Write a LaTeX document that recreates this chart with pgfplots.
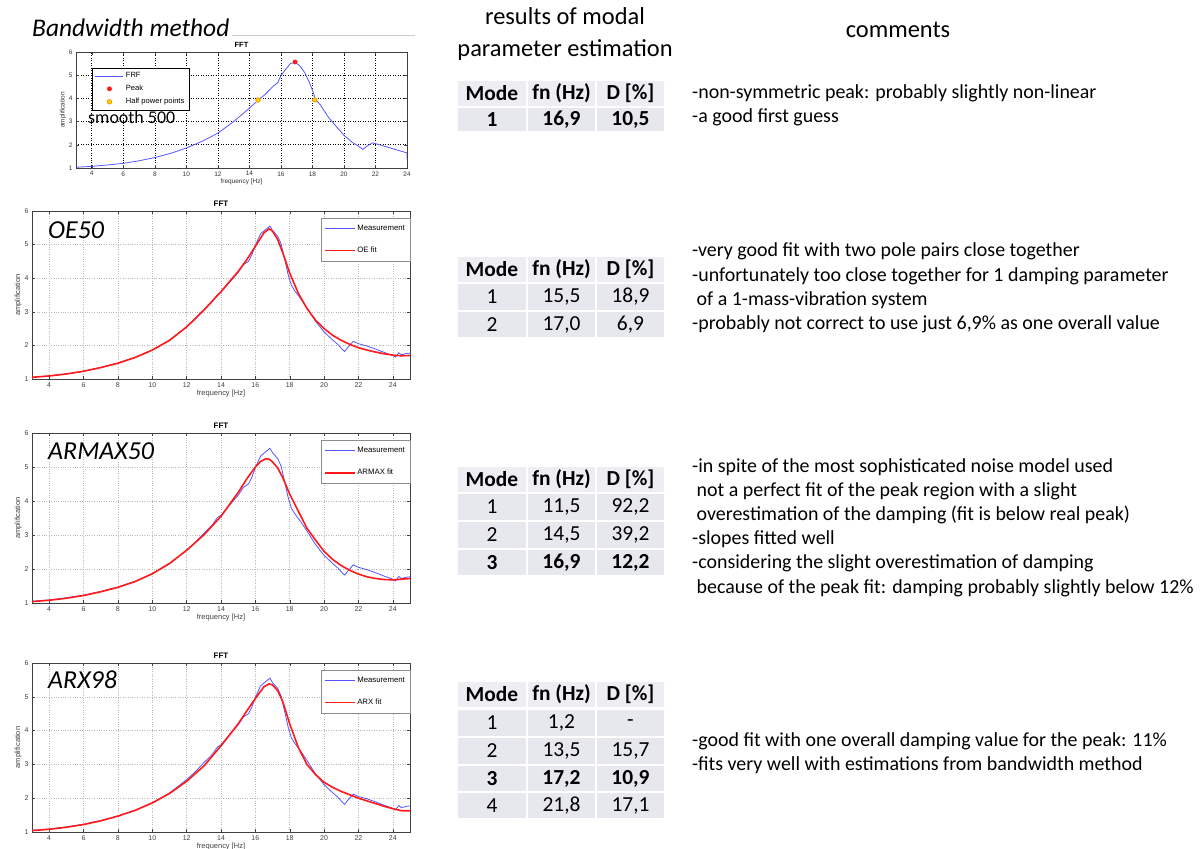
\documentclass[border=0pt]{standalone}
\usepackage{fontspec}
\setmainfont{Carlito}
\newfontfamily\hv{Liberation Sans}
\usepackage{pgfplots}
\usepackage{pgfplotstable}
\pgfplotsset{compat=1.18}

\definecolor{mblue}{RGB}{85,85,255}
\definecolor{mred}{RGB}{255,25,25}
\definecolor{hpfill}{RGB}{255,225,0}
\definecolor{hpedge}{RGB}{255,140,0}
\definecolor{cellh}{RGB}{238,238,242}
\definecolor{cellr}{RGB}{231,231,238}

% smoothed FRF (bandwidth method)
\pgfplotstableread{
x y
3 1.03
4 1.07
5 1.13
6 1.20
7 1.31
8 1.45
9 1.63
10 1.86
11 2.15
12 2.50
13 3.00
14 3.58
14.6 3.95
15 4.17
15.5 4.52
15.8 4.68
16.0 4.98
16.3 5.25
16.6 5.50
16.9 5.56
17.2 5.40
17.5 5.12
17.8 4.70
18.0 4.35
18.2 3.95
18.5 3.72
19 3.20
19.5 2.80
20 2.41
20.5 2.12
21 1.90
21.2 1.80
21.5 1.96
21.8 2.08
22 2.05
22.5 1.95
23 1.85
23.5 1.75
24 1.65
24 1.40
}\frf

\pgfplotstableread{
x y
3 1.05
4 1.09
5 1.15
6 1.23
7 1.34
8 1.47
9 1.64
10 1.86
11 2.15
12 2.55
12.5 2.78
13 3.05
13.5 3.30
13.8 3.52
14 3.58
14.5 3.88
15 4.17
15.3 4.40
15.6 4.50
15.8 4.70
16.0 4.98
16.3 5.32
16.6 5.45
16.85 5.55
17.0 5.42
17.3 5.25
17.5 5.02
17.7 4.58
17.9 4.12
18.1 3.78
18.3 3.62
18.6 3.42
19.0 3.12
19.5 2.72
20.0 2.40
20.5 2.16
20.8 2.03
21.1 1.86
21.2 1.82
21.4 1.95
21.7 2.12
22.0 2.05
22.5 1.98
23.0 1.89
23.5 1.79
24.0 1.70
24.15 1.65
24.35 1.78
24.5 1.72
24.8 1.76
25.0 1.77
}\meas

\pgfplotstableread{
x y
3 1.05
4 1.09
5 1.15
6 1.23
7 1.34
8 1.47
9 1.64
10 1.86
11 2.15
12 2.55
13 3.05
14 3.60
15 4.20
15.5 4.55
16 4.95
16.5 5.35
16.8 5.47
17.0 5.40
17.3 5.15
17.6 4.75
18.0 4.15
18.5 3.55
19.0 3.10
19.5 2.75
20.0 2.50
20.5 2.30
21.0 2.15
21.5 2.03
22.0 1.93
22.5 1.86
23.0 1.80
23.5 1.75
24.0 1.71
24.5 1.69
25.0 1.70
}\oefit

\pgfplotstableread{
x y
3 1.04
4 1.08
5 1.14
6 1.22
7 1.33
8 1.46
9 1.63
10 1.86
11 2.16
12 2.55
13 3.00
14 3.55
15 4.25
15.5 4.65
16.0 5.00
16.3 5.16
16.6 5.24
16.8 5.23
17.0 5.15
17.3 4.97
17.6 4.68
18.0 4.20
18.5 3.70
19.0 3.20
19.5 2.85
20.0 2.52
20.5 2.28
21.0 2.10
21.5 1.96
22.0 1.85
22.5 1.77
23.0 1.72
23.5 1.69
24.0 1.68
24.5 1.70
25.0 1.72
}\armaxfit

\pgfplotstableread{
x y
3 1.04
4 1.08
5 1.14
6 1.22
7 1.33
8 1.47
9 1.64
10 1.86
11 2.14
12 2.50
13 2.95
14 3.55
15 4.20
15.5 4.58
16 4.95
16.5 5.30
16.8 5.38
17.0 5.35
17.3 5.18
17.6 4.85
18.0 4.20
18.5 3.50
19.0 3.00
19.5 2.70
20.0 2.47
20.5 2.32
21.0 2.20
21.5 2.10
22.0 2.00
22.5 1.92
23.0 1.84
23.5 1.76
24.0 1.69
24.5 1.63
25.0 1.63
}\arxfit

\pgfplotsset{
  marklegend/.style={legend image code/.code={\draw[##1] plot coordinates {(14bp,0bp)};}},
  matlab/.style={
    scale only axis,
    xmin=3, xmax=25, ymin=1, ymax=6,
    xtick={4,6,...,24}, ytick={1,2,...,6},
    tick align=inside, major tick length=3bp,
    every tick/.style={black!75, line width=0.4bp},
    axis line style={black!75, line width=0.5bp},
    grid=major, major grid style={gray!55, dotted, line width=0.5bp},
    ticklabel style={font=\hv\fontsize{7}{8}\selectfont, text=black!75},
    /pgf/number format/assume math mode=true,
    xlabel={frequency [Hz]}, ylabel={amplification},
    label style={font=\hv\fontsize{7.5}{9}\selectfont, text=black!75},
    xlabel style={yshift=4bp},
    ylabel style={yshift=-4bp},
    title={FFT},
    title style={font=\hv\bfseries\fontsize{8}{9}\selectfont, yshift=-5bp},
    legend cell align=left,
    legend style={font=\hv\fontsize{7.8}{9}\selectfont, draw=black!45,
      at={(1,0.958)}, anchor=north east, row sep=11bp,
      inner xsep=3bp, inner ysep=5bp},
    legend image code/.code={\draw[##1] (0bp,0bp) -- (30bp,0bp);},
  },
  fitline/.style={draw=mred, color=mred, line width=1.6bp},
  measline/.style={draw=mblue, color=mblue, line width=0.8bp},
}

\newcommand\tcell[6]{%
  \fill[#5] (#1+1,849-#2) rectangle (#3-1,849-#4);
  \node[font=\fontsize{21.5}{24}\selectfont, inner sep=0pt] at ({(#1+#3)/2},{849-(#2+#4)/2}) {#6};}
\newcommand\trow[6]{% y1 y2 fill c1 c2 c3
  \tcell{457}{#1}{527}{#2}{#3}{#4}%
  \tcell{527}{#1}{596}{#2}{#3}{#5}%
  \tcell{596}{#1}{665}{#2}{#3}{#6}}
\newcommand\cmt[2]{\node[anchor=base west, inner sep=0pt, font=\fontsize{20}{24}\selectfont] at (692,849-#1-6) {#2};}

\begin{document}
\begin{tikzpicture}[x=1bp,y=1bp]
\path[use as bounding box] (0,0) rectangle (1203,849);

% ---------- Plot 1: bandwidth method ----------
\draw[gray!40, line width=0.6bp] (232,849-35) -- (415,849-35);
\begin{axis}[matlab,
  at={(76bp,797bp)}, anchor=north west,
  width=331bp, height=116bp, xmax=24,
  major grid style={black, dotted, line width=0.6bp},
  ticklabel style={font=\hv\fontsize{6.5}{8}\selectfont, text=black!80},
  label style={font=\hv\fontsize{6.5}{8}\selectfont, text=black!80},
  title style={font=\hv\bfseries\fontsize{7.5}{9}\selectfont},
  legend style={at={(0.048,0.862)}, anchor=north west, draw=black, row sep=2bp,
    font=\hv\fontsize{7.6}{8.5}\selectfont, inner xsep=3bp, inner ysep=2.5bp},
  legend image code/.code={\draw[#1] (0bp,0bp) -- (28bp,0bp);},
]
\addplot[measline] table {\frf};
\addlegendentry{FRF}
\addplot[only marks, mark=*, mark size=2.2bp, draw=mred, fill=mred, marklegend]
  coordinates {(16.9,5.57)};
\addlegendentry{Peak}
\addplot[only marks, mark=*, mark size=2.2bp, draw=hpedge, fill=hpfill, line width=0.8bp, marklegend]
  coordinates {(14.55,3.93) (18.15,3.93)};
\addlegendentry{Half power points}
\end{axis}

% ---------- Plot 2: OE50 ----------
\begin{axis}[matlab, at={(32bp,638bp)}, anchor=north west,
  width=378bp, height=168bp]
\addplot[measline] table {\meas};
\addlegendentry{Measurement}
\addplot[fitline] table {\oefit};
\addlegendentry{OE fit}
\end{axis}

% ---------- Plot 3: ARMAX50 ----------
\begin{axis}[matlab, at={(32bp,416bp)}, anchor=north west,
  width=378bp, height=170bp]
\addplot[measline] table {\meas};
\addlegendentry{Measurement}
\addplot[fitline] table {\armaxfit};
\addlegendentry{ARMAX fit}
\end{axis}

% ---------- Plot 4: ARX98 ----------
\begin{axis}[matlab, at={(32bp,186bp)}, anchor=north west,
  width=378bp, height=169bp]
\addplot[measline] table {\meas};
\addlegendentry{Measurement}
\addplot[fitline] table {\arxfit};
\addlegendentry{ARX fit}
\end{axis}

% ---------- overlay labels ----------
\node[anchor=west, inner sep=0pt, font=\itshape\fontsize{25.5}{27}\selectfont] at (32,849-28) {Bandwidth method};
\node[anchor=west, inner sep=0pt, font=\fontsize{18}{21}\selectfont] at (88,849-117) {smooth 500};
\node[anchor=west, inner sep=0pt, font=\itshape\fontsize{26}{28}\selectfont] at (48,849-230) {OE50};
\node[anchor=west, inner sep=0pt, font=\itshape\fontsize{26}{28}\selectfont] at (48,849-451) {ARMAX50};
\node[anchor=west, inner sep=0pt, font=\itshape\fontsize{26}{28}\selectfont] at (48,849-680) {ARX98};

% ---------- headers ----------
\node[align=center, font=\fontsize{24.5}{32}\selectfont] at (565,849-34) {results of modal\\parameter estimation};
\node[font=\fontsize{24.5}{28}\selectfont] at (898,849-30) {comments};

% ---------- tables ----------
\trow{81}{106}{cellh}{\bfseries Mode}{\bfseries fn (Hz)}{\bfseries D [\%]}
\trow{108}{131}{cellr}{\bfseries 1}{\bfseries 16,9}{\bfseries 10,5}

\trow{257}{282}{cellh}{\bfseries Mode}{\bfseries fn (Hz)}{\bfseries D [\%]}
\trow{284}{310}{cellr}{1}{15,5}{18,9}
\trow{312}{337}{cellr}{2}{17,0}{6,9}

\trow{467}{492}{cellh}{\bfseries Mode}{\bfseries fn (Hz)}{\bfseries D [\%]}
\trow{494}{520}{cellr}{1}{11,5}{92,2}
\trow{522}{548}{cellr}{2}{14,5}{39,2}
\trow{550}{575}{cellr}{\bfseries 3}{\bfseries 16,9}{\bfseries 12,2}

\trow{682}{707}{cellh}{\bfseries Mode}{\bfseries fn (Hz)}{\bfseries D [\%]}
\trow{710}{736}{cellr}{1}{1,2}{-}
\trow{738}{764}{cellr}{2}{13,5}{15,7}
\trow{766}{791}{cellr}{\bfseries 3}{\bfseries 17,2}{\bfseries 10,9}
\trow{793}{818}{cellr}{4}{21,8}{17,1}

% ---------- comments ----------
\cmt{93}{-non-symmetric peak: probably slightly non-linear}
\cmt{117}{-a good first guess}
\cmt{251}{-very good fit with two pole pairs close together}
\cmt{276}{-unfortunately too close together for 1 damping parameter}
\cmt{300}{\ of a 1-mass-vibration system}
\cmt{324}{-probably not correct to use just 6,9\% as one overall value}
\cmt{467}{-in spite of the most sophisticated noise model used}
\cmt{491}{\ not a perfect fit of the peak region with a slight}
\cmt{515}{\ overestimation of the damping (fit is below real peak)}
\cmt{539}{-slopes fitted well}
\cmt{563}{-considering the slight overestimation of damping}
\cmt{588}{\ because of the peak fit: damping probably slightly below 12\%}
\cmt{741}{-good fit with one overall damping value for the peak: 11\%}
\cmt{765}{-fits very well with estimations from bandwidth method}
\end{tikzpicture}
\end{document}
